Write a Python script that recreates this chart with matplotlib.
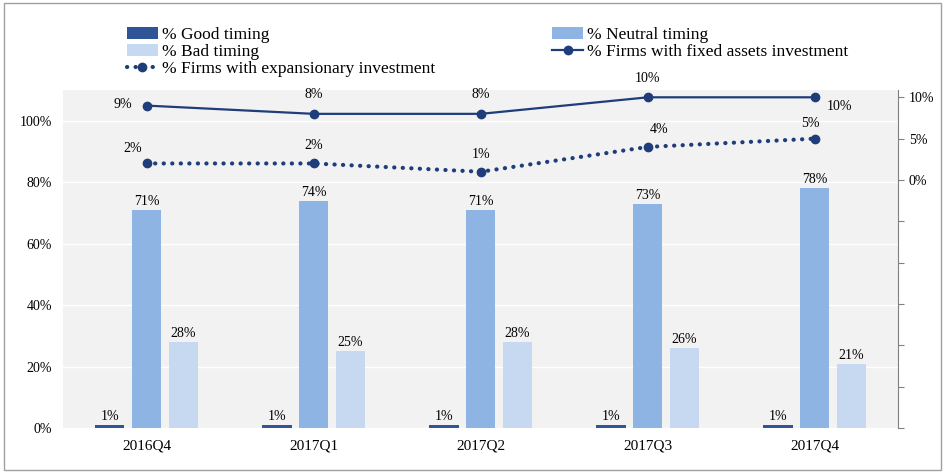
import matplotlib.pyplot as plt
import numpy as np
from matplotlib.patches import Rectangle

plt.rcParams['font.family'] = ['Liberation Serif', 'DejaVu Serif']

quarters = ['2016Q4', '2017Q1', '2017Q2', '2017Q3', '2017Q4']
good = [1, 1, 1, 1, 1]
neutral = [71, 74, 71, 73, 78]
bad = [28, 25, 28, 26, 21]
fixed_assets = [9, 8, 8, 10, 10]
expansionary = [2, 2, 1, 4, 5]

c_good = '#2f5597'
c_neutral = '#8eb4e3'
c_bad = '#c6d9f1'
c_line = '#1f3d7a'

fig = plt.figure(figsize=(9.45, 4.73), dpi=100)
ax = fig.add_axes([0.0667, 0.095, 0.884, 0.715])
ax2 = ax.twinx()

x = np.arange(len(quarters))
w = 0.175
off = 0.22

ax.set_facecolor('#f2f2f2')
b1 = ax.bar(x - off, good, w, color=c_good, label='% Good timing')
b2 = ax.bar(x, neutral, w, color=c_neutral, label='% Neutral timing')
b3 = ax.bar(x + off, bad, w, color=c_bad, label='% Bad timing')
for bars, vals in [(b1, good), (b2, neutral), (b3, bad)]:
    for r, v in zip(bars, vals):
        ax.text(r.get_x() + r.get_width() / 2, v + 0.6, f'{v}%', ha='center', va='bottom', fontsize=10)

ax.set_xlim(-0.5, 4.5)
ax.set_ylim(0, 110)
ax.set_yticks(range(0, 101, 20))
ax.set_yticklabels([f'{t}%' for t in range(0, 101, 20)], fontsize=10)
ax.set_xticks(x)
ax.set_xticklabels(quarters, fontsize=11)
ax.tick_params(axis='both', length=0, pad=8)
ax.yaxis.grid(True, color='white', linewidth=1)
ax.set_axisbelow(True)
for s in ax.spines.values():
    s.set_visible(False)

l1, = ax2.plot(x, fixed_assets, color=c_line, lw=1.6, marker='o', ms=6,
               label='% Firms with fixed assets investment')
l2, = ax2.plot(x, expansionary, color=c_line, lw=3, ls=(0, (0.05, 2.0)),
               dash_capstyle='round', marker='o', ms=6,
               label='% Firms with expansionary investment')
ax2.set_ylim(-30, 10.9)
ax2.set_yticks(range(-30, 11, 5))
ax2.set_yticklabels(['' if t < 0 else f'{t}%' for t in range(-30, 11, 5)], fontsize=10)
ax2.tick_params(axis='y', length=4, color='#808080', direction='out')
for k in ['top', 'left', 'bottom']:
    ax2.spines[k].set_visible(False)
ax2.spines['right'].set_color('#808080')

fa_off = [(-17, -4), (0, 9), (0, 9), (0, 9), (18, -11)]
for xi, v, (dx, dy) in zip(x, fixed_assets, fa_off):
    ax2.annotate(f'{v}%', (xi, v), xytext=(dx, dy), textcoords='offset points',
                 ha='center', va='bottom', fontsize=10)
ex_off = [(-10, 6), (0, 8), (0, 8), (8, 8), (-3, 6)]
for xi, v, (dx, dy) in zip(x, expansionary, ex_off):
    ax2.annotate(f'{v}%', (xi, v), xytext=(dx, dy), textcoords='offset points',
                 ha='center', va='bottom', fontsize=10)

fig.legend([b1, b3, l2, b2, l1],
           [h.get_label() for h in [b1, b3, l2, b2, l1]],
           ncol=2, loc='upper left', bbox_to_anchor=(0.125, 0.962),
           frameon=False, fontsize=12.5, handlelength=1.8, handletextpad=0.2,
           labelspacing=0.05, columnspacing=6.75, borderpad=0)

fig.patches.append(Rectangle((0.004, 0.006), 0.992, 0.988, transform=fig.transFigure,
                             fill=False, edgecolor='#a0a0a0', lw=1))

fig.savefig('out.png', dpi=100)
